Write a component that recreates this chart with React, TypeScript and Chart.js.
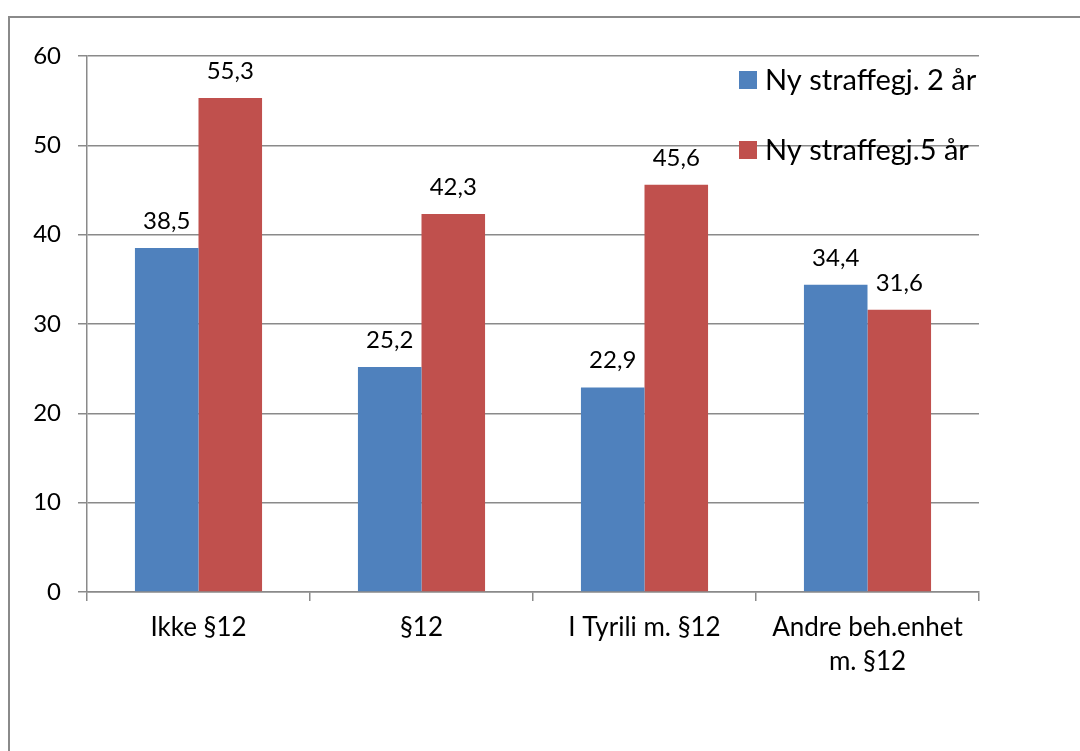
import React, { useEffect, useRef } from "react";
import { Chart, registerables } from "chart.js";

Chart.register(...registerables);

const categories: (string | string[])[] = ["Ikke §12", "§12", "I Tyrili m. §12", ["Andre beh.enhet", "m. §12"]];
const seriesNames = ["Ny straffegj. 2 år", "Ny straffegj.5 år"];
const series2yr = [38.5, 25.2, 22.9, 34.4];
const series5yr = [55.3, 42.3, 45.6, 31.6];
const yTicks = [0, 10, 20, 30, 40, 50, 60];
const colors = ["#4F81BD", "#C0504D"];

const FONT = "Lato, 'Open Sans', sans-serif";
const GRID = "#8a8a8a";

const dataLabelPlugin = {
  id: "dataLabels",
  afterDatasetsDraw(chart: any) {
    const ctx = chart.ctx;
    ctx.save();
    ctx.font = `24px ${FONT}`;
    ctx.fillStyle = "#000";
    ctx.textAlign = "center";
    ctx.textBaseline = "alphabetic";
    chart.data.datasets.forEach((ds: any, di: number) => {
      const meta = chart.getDatasetMeta(di);
      meta.data.forEach((el: any, i: number) => {
        const v = ds.data[i] as number;
        ctx.fillText(v.toFixed(1).replace(".", ","), el.x, el.y - 19);
      });
    });
    ctx.restore();
  },
};

const legendPlugin = {
  id: "customLegend",
  afterDraw(chart: any) {
    const ctx = chart.ctx;
    const area = chart.chartArea;
    const x0 = area.right - 240;
    const y0 = area.top + 15;
    ctx.save();
    ctx.font = `29px ${FONT}`;
    ctx.textBaseline = "middle";
    ctx.textAlign = "left";
    chart.data.datasets.forEach((ds: any, i: number) => {
      const y = y0 + i * 70;
      ctx.fillStyle = ds.backgroundColor;
      ctx.fillRect(x0, y, 18, 18);
      ctx.fillStyle = "#000";
      ctx.fillText(ds.label, x0 + 26, y + 10);
    });
    ctx.restore();
  },
};

export default function App() {
  const ref = useRef<HTMLCanvasElement>(null);
  useEffect(() => {
    if (!ref.current) return;
    const chart = new Chart(ref.current, {
      type: "bar",
      data: {
        labels: categories,
        datasets: [
          { label: seriesNames[0], data: series2yr, backgroundColor: colors[0], borderWidth: 0 },
          { label: seriesNames[1], data: series5yr, backgroundColor: colors[1], borderWidth: 0 },
        ],
      },
      options: {
        animation: false,
        responsive: false,
        maintainAspectRatio: false,
        layout: { padding: { left: 0, top: 56, right: 101, bottom: 0 } },
        plugins: {
          legend: { display: false },
          tooltip: { enabled: false },
        },
        datasets: { bar: { categoryPercentage: 0.57, barPercentage: 1 } },
        scales: {
          x: {
            grid: { drawOnChartArea: false, drawTicks: true, tickLength: 9, offset: true, color: GRID, lineWidth: 1.5 },
            border: { color: GRID, width: 1.5 },
            ticks: { font: { family: FONT, size: 26, lineHeight: 1.3 }, color: "#000", padding: 10, maxRotation: 0, autoSkip: false },
            afterFit: (s: any) => { s.height = 159; },
          },
          y: {
            min: 0,
            max: 60,
            afterBuildTicks: (s: any) => { s.ticks = yTicks.map((v) => ({ value: v })); },
            grid: { color: GRID, lineWidth: 1.5, tickLength: 9 },
            border: { color: GRID, width: 1.5 },
            ticks: { font: { family: FONT, size: 24 }, color: "#000", padding: 17 },
            afterFit: (s: any) => { s.width = 87; },
          },
        },
      },
      plugins: [dataLabelPlugin, legendPlugin],
    });
    return () => chart.destroy();
  }, []);
  return (
    <div style={{ position: "fixed", left: 0, top: 0, width: 1080, height: 751, overflow: "hidden", background: "#fff" }}>
      <div style={{ position: "absolute", left: 8, top: 16, width: 1100, height: 800, border: "2px solid #8a8a8a", boxSizing: "border-box" }} />
      <canvas ref={ref} width={1080} height={751} style={{ position: "absolute", left: 0, top: 0, width: 1080, height: 751 }} />
    </div>
  );
}
